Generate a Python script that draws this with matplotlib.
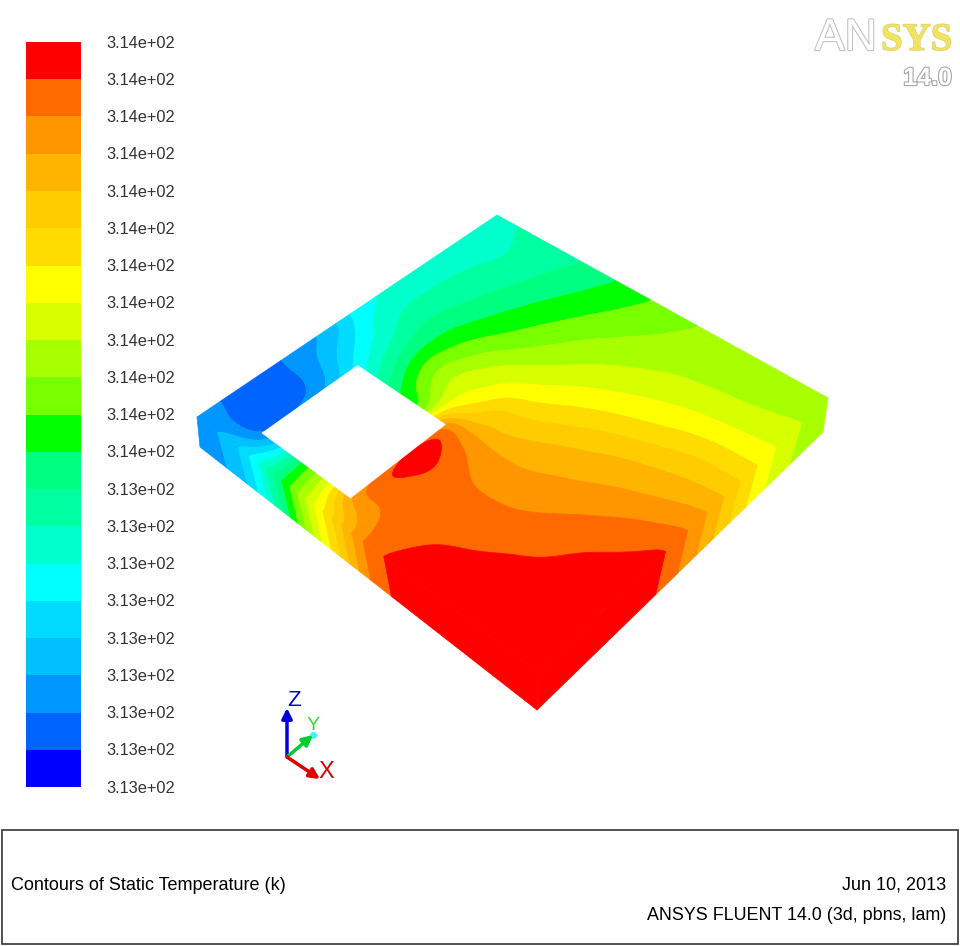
import numpy as np
import matplotlib
matplotlib.use("Agg")
import matplotlib.pyplot as plt
import matplotlib.patheffects as pe
from matplotlib.patches import Polygon, Rectangle

# ---------- data ----------
band_colors = ["#0000ff", "#0064ff", "#0096ff", "#00c0ff", "#00dcff", "#00ffff", "#00ffcc",
               "#00ffa0", "#00ff80", "#00ff00", "#78ff00", "#a8ff00", "#d8ff00", "#ffff00",
               "#ffdc00", "#ffcc00", "#ffb400", "#ff9600", "#ff6a00", "#ff0000"]
scale_labels = ["3.14e+02"] * 12 + ["3.13e+02"] * 9

# plate coordinates of the sampled temperature (in colour-band units)
s_nodes = [0, .125, .25, .32, .385, .44, .5, .625, .75, .875, 1]
t_nodes = [0, .075, .2, .3, .395, .45, .5, .6, .7, .8, .9, 1]
nan = float("nan")
temp_s000 = [2.4, 2.05, 1.5, 2.1, 2.8, 3.5, 4.7, 5.9, 6.2, 6.4, 6.6, 6.8]
temp_s125 = [4.4, 2.0, 1.95, 3.2, 5.3, 6.3, 6.9, 7.8, 7.7, 7.4, 7.1, 7.25]
temp_s250 = [9.0, 9.4, nan, nan, 9.0, 10.0, 10.7, 10.3, 9.5, 8.9, 8.4, 7.9]
temp_s320 = [12.0, 12.7, nan, nan, 10.6, 11.8, 12.4, 11.7, 10.5, 9.75, 9.1, 8.6]
temp_s385 = [14.2, 17.0, 18.85, 19.4, 17.6, 14.8, 13.7, 12.7, 11.4, 10.5, 9.8, 9.2]
temp_s440 = [16.4, 17.6, 18.75, 19.1, 17.6, 16.0, 15.2, 13.3, 12.0, 11.1, 10.3, 9.75]
temp_s500 = [18.35, 18.4, 18.5, 18.3, 17.3, 16.2, 15.5, 13.9, 12.6, 11.6, 10.8, 10.2]
temp_s625 = [19.3, 19.2, 18.6, 18.0, 17.2, 16.8, 16.3, 15.0, 13.5, 12.3, 11.5, 11.05]
temp_s750 = [19.5, 19.4, 19.05, 18.45, 17.8, 17.3, 16.9, 15.8, 14.2, 12.8, 11.7, 11.2]
temp_s875 = [19.6, 19.6, 19.35, 19.15, 18.6, 18.1, 17.5, 16.3, 14.85, 13.1, 11.85, 11.3]
temp_s999 = [19.7, 19.65, 19.55, 19.45, 19.3, 19.0, 18.3, 16.75, 14.95, 13.3, 12.1, 11.35]

# ---------- helpers ----------
DPI = 100
fig = plt.figure(figsize=(9.6, 9.46), dpi=DPI, facecolor="white")
ax = fig.add_axes([0, 0, 1, 1])
ax.set_xlim(0, 960)
ax.set_ylim(946, 0)
ax.axis("off")
plt.rcParams["font.family"] = ["Liberation Sans", "DejaVu Sans"]

s_arr = np.array(s_nodes, float)
t_arr = np.array(t_nodes, float)
field = np.array([temp_s000, temp_s125, temp_s250, temp_s320, temp_s385, temp_s440,
                  temp_s500, temp_s625, temp_s750, temp_s875, temp_s999], float)
# the nodes that fall inside the hole carry no reading: bridge them for the interpolation
for row in field:
    bad = np.isnan(row)
    if bad.any():
        row[bad] = np.interp(t_arr[bad], t_arr[~bad], row[~bad])


def hermite(x, y, xn, axis):
    y = np.moveaxis(y, axis, 0)
    d = np.gradient(y, x, axis=0)
    i = np.clip(np.searchsorted(x, xn, side="right") - 1, 0, len(x) - 2)
    h = x[i + 1] - x[i]
    u = (xn - x[i]) / h
    shape = (-1,) + (1,) * (y.ndim - 1)
    u = u.reshape(shape)
    hh = h.reshape(shape)
    out = ((2*u**3 - 3*u**2 + 1) * y[i] + (u**3 - 2*u**2 + u) * hh * d[i]
           + (-2*u**3 + 3*u**2) * y[i + 1] + (u**3 - u**2) * hh * d[i + 1])
    return np.moveaxis(out, 0, axis)


def smooth(a, passes=24):
    for _ in range(passes):
        for axis in (0, 1):
            p = np.pad(a, [(1, 1) if k == axis else (0, 0) for k in range(2)], mode="edge")
            if axis == 0:
                a = (p[:-2, :] + 2 * p[1:-1, :] + p[2:, :]) / 4
            else:
                a = (p[:, :-2] + 2 * p[:, 1:-1] + p[:, 2:]) / 4
    return a


s_fine = np.linspace(0, 1, 241)
t_fine = np.linspace(0, 1, 241)
fine = smooth(hermite(t_arr, hermite(s_arr, field, s_fine, 0), t_fine, 1))
fine = np.clip(fine, 0.01, 19.99)
levels = np.arange(0, 21)

# plate corners on the screen
L, F, R, T = map(np.array, [(197., 417.), (538., 672.), (828., 398.), (497., 215.)])
Lb, Fb, Rb = map(np.array, [(200., 447.), (537., 710.), (823., 432.)])


def top(s, t):
    p = L + np.multiply.outer(s, F - L) + np.multiply.outer(t, T - L) \
        + np.multiply.outer(s * t, R - F - T + L)
    return p[..., 0], p[..., 1]


def bands(x, y, v):
    cs = ax.contourf(x, y, v, levels=levels, colors=band_colors, antialiased=True)
    cs.set_edgecolor("face")
    cs.set_linewidth(0.5)


# front-left side
z = np.linspace(0, 1, 9)
S, Z = np.meshgrid(s_fine, z, indexing="ij")
Xa = L[0] + S * (F[0] - L[0]); Ya = L[1] + S * (F[1] - L[1])
Xb = Lb[0] + S * (Fb[0] - Lb[0]); Yb = Lb[1] + S * (Fb[1] - Lb[1])
Vs = np.array([np.interp(s_fine - .02 * zz, s_fine, fine[:, 0]) for zz in z]).T
bands(Xa + Z * (Xb - Xa), Ya + Z * (Yb - Ya), Vs)

# front-right side
T2, Z = np.meshgrid(t_fine, z, indexing="ij")
Xa = F[0] + T2 * (R[0] - F[0]); Ya = F[1] + T2 * (R[1] - F[1])
Xb = Fb[0] + T2 * (Rb[0] - Fb[0]); Yb = Fb[1] + T2 * (Rb[1] - Fb[1])
Vs = np.array([np.interp(t_fine + .025 * zz, t_fine, fine[-1, :]) for zz in z]).T
bands(Xa + Z * (Xb - Xa), Ya + Z * (Yb - Ya), Vs)

# top face
SS, TT = np.meshgrid(s_fine, t_fine, indexing="ij")
X, Y = top(SS, TT)
bands(X, Y, fine)

# the opening in the plate
hs0, hs1, ht0, ht1 = s_nodes[1], s_nodes[4], t_nodes[1], t_nodes[4]
hx, hy = top(np.array([hs0, hs1, hs1, hs0]), np.array([ht0, ht0, ht1, ht1]))
ax.add_patch(Polygon(np.c_[hx, hy], closed=True, fc="white", ec="white", lw=0.5, zorder=5))

# colour scale
bar_top, bar_bot = 42.0, 787.0
edges = np.linspace(bar_bot, bar_top, len(band_colors) + 1)
ax.bar([53.5] * len(band_colors), edges[1:] - edges[:-1], bottom=edges[:-1], width=55,
       color=band_colors, linewidth=0)
for yy, lab in zip(np.linspace(bar_top, bar_bot, len(scale_labels)), scale_labels):
    ax.text(106, yy + 1, lab, fontsize=11.8, color="#333333", ha="left", va="center",
            family="Liberation Sans")

# caption box
ax.add_patch(Rectangle((1.5, 829.5), 956.5, 114, fc="white", ec="#333333", lw=1.2))
ax.text(11, 885, "Contours of Static Temperature (k)", fontsize=13, color="black",
        va="center", ha="left", family="Liberation Sans")
ax.text(946, 885, "Jun 10, 2013", fontsize=13, color="black", va="center", ha="right",
        family="Liberation Sans")
ax.text(946, 915, "ANSYS FLUENT 14.0 (3d, pbns, lam)", fontsize=12.9, color="black",
        va="center", ha="right", family="Liberation Sans")

# axes triad
origin = (287, 757)
for tip, col in [((287, 708), "#0000dd"), ((313, 735), "#00cc33"), ((320, 779), "#dd0000")]:
    ax.annotate("", xy=tip, xytext=origin,
                arrowprops=dict(arrowstyle="-|>", color=col, lw=2.5, mutation_scale=15,
                                shrinkA=0, shrinkB=0))
ax.plot([313], [735], "o", color="#33ffee", ms=4)
ax.text(294, 700, "Z", color="#0000dd", fontsize=16, ha="center", va="center")
ax.text(313, 725, "Y", color="#33dd33", fontsize=14, ha="center", va="center")
ax.text(326, 772, "X", color="#dd0000", fontsize=17, ha="center", va="center")

# product mark
edge = [pe.withStroke(linewidth=1.6, foreground="#c4c4c4")]
ax.text(815, 50, "AN", fontsize=32, color="white", ha="left", va="baseline",
        family="Liberation Sans", path_effects=edge)
ax.text(881, 50, "SYS", fontsize=28, color="#f2e35e", ha="left", va="baseline",
        family="Liberation Serif", weight="bold",
        path_effects=[pe.withStroke(linewidth=1, foreground="#d8cf80")])
ax.text(952, 85, "14.0", fontsize=18, color="white", ha="right", va="baseline", weight="bold",
        family="Liberation Sans", path_effects=[pe.withStroke(linewidth=1.6, foreground="#a8a8a8")])

fig.savefig("out.png", dpi=DPI, facecolor="white")
